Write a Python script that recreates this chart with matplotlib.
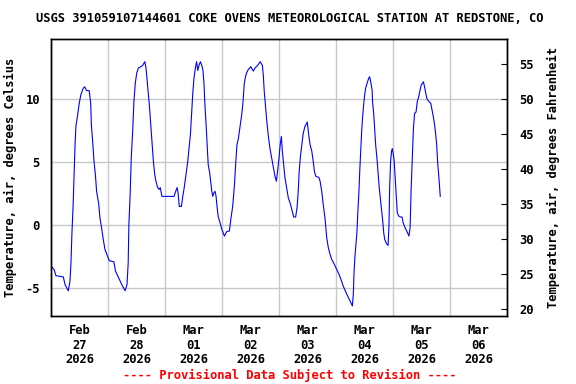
import numpy as np
import pandas as pd
import matplotlib
matplotlib.use("Agg")
import matplotlib.pyplot as plt
import matplotlib.dates as mdates

# hours since 2026-02-27 00:00 and air temperature (deg C)
hours = [0.3, 1.3, 2.1, 5.2, 5.9, 7.3, 8.0, 8.4, 8.8, 9.3, 9.7, 10.1, 10.5, 11.1, 11.8,
         12.6, 13.6, 14.2, 15.0, 16.1, 16.7, 17.0, 17.6, 18.1, 18.7, 19.2, 20.1, 20.6,
         21.3, 22.0, 22.7, 23.5, 24.5, 26.5, 27.1, 28.3, 29.8, 31.2, 32.0, 32.5, 32.8,
         33.3, 33.8, 34.4, 34.9, 35.5, 36.1, 36.8, 37.8, 38.6, 39.5, 40.0, 40.4, 40.8,
         41.4, 42.0, 42.5, 43.1, 43.7, 44.2, 44.9, 45.6, 46.0, 46.7, 51.8, 52.5, 53.1,
         53.5, 54.0, 54.9, 55.4, 56.1, 56.8, 57.6, 58.1, 58.7, 59.2, 59.7, 60.2, 60.8,
         61.3, 61.8, 62.3, 62.9, 63.5, 64.0, 64.4, 64.8, 65.3, 65.7, 66.2, 66.8, 67.2,
         67.7, 68.1, 68.6, 69.1, 69.5, 69.9, 70.4, 71.2, 71.9, 73.0, 74.0, 75.1, 75.8,
         76.5, 77.2, 77.8, 78.3, 78.9, 79.6, 80.3, 80.8, 81.4, 82.0, 82.8, 84.1, 85.2,
         85.9, 87.0, 88.1, 89.0, 89.4, 89.8, 90.4, 90.9, 91.5, 92.2, 92.9, 93.6, 94.3,
         94.9, 95.4, 96.0, 96.5, 97.0, 97.4, 98.0, 98.5, 99.2, 99.9, 100.8, 101.6, 102.2,
         103.0, 103.6, 104.1, 104.5, 105.1, 105.7, 106.2, 106.9, 107.9, 108.5, 109.1,
         109.8, 110.4, 110.9, 111.5, 112.8, 113.3, 114.0, 114.6, 115.4, 116.1, 116.8,
         117.5, 118.2, 119.3, 120.3, 121.3, 122.1, 123.1, 124.5, 125.9, 126.9, 127.3,
         127.6, 128.0, 128.4, 128.8, 129.1, 129.6, 130.0, 130.4, 130.8, 131.2, 131.7,
         132.1, 132.5, 133.1, 133.8, 134.2, 134.6, 135.2, 135.4, 135.9, 136.3, 136.7,
         137.3, 137.8, 138.2, 138.8, 139.2, 139.7, 140.1, 140.5, 141.1, 141.9, 142.3,
         142.6, 143.0, 143.4, 143.7, 144.1, 144.5, 145.0, 145.4, 145.8, 146.4, 147.2,
         147.8, 148.3, 149.1, 149.8, 150.7, 151.2, 151.6, 152.1, 152.6, 153.1, 153.7,
         154.2, 154.8, 155.4, 155.9, 156.8, 157.3, 157.9, 158.4, 159.3, 159.9, 160.4,
         161.0, 161.5, 162.0, 162.4, 162.8, 163.4, 163.9]
temp_c = [-3.3, -3.5, -4.0, -4.1, -4.7, -5.2, -4.4, -3.0, -0.7, 1.5, 3.9, 6.3, 7.9, 8.6, 9.6,
          10.4, 10.9, 11.0, 10.7, 10.7, 9.7, 8.0, 6.5, 5.1, 4.0, 2.7, 1.7, 0.6,
          -0.2, -1.1, -1.9, -2.3, -2.8, -2.9, -3.6, -4.1, -4.7, -5.2, -4.7, -3.0, 0.1,
          2.3, 5.4, 7.5, 9.8, 11.3, 12.1, 12.5, 12.6, 12.7, 13.0, 12.5, 11.7, 10.8,
          9.6, 8.0, 6.7, 5.1, 4.0, 3.5, 3.0, 2.85, 3.0, 2.3, 2.3, 2.7, 3.0,
          2.6, 1.5, 1.5, 2.2, 3.0, 4.0, 5.1, 6.1, 7.2, 8.8, 10.5, 11.7, 12.5,
          13.0, 12.3, 12.7, 13.0, 12.7, 12.3, 11.3, 9.6, 8.0, 6.5, 4.8, 4.2, 3.5,
          2.7, 2.3, 2.6, 2.7, 2.3, 1.5, 0.7, 0.2, -0.3, -0.85, -0.5, -0.45, 0.6,
          1.5, 3.1, 5.0, 6.4, 6.9, 7.85, 8.8, 9.7, 11.3, 11.9, 12.3, 12.6, 12.25,
          12.5, 12.7, 13.0, 12.7, 11.9, 10.6, 9.3, 8.2, 7.1, 6.1, 5.35, 4.6, 3.9,
          3.5, 4.3, 5.35, 6.4, 7.06, 5.9, 4.8, 3.8, 3.0, 2.2, 1.7, 1.1, 0.66,
          0.66, 1.4, 2.7, 4.3, 5.6, 6.5, 7.3, 7.85, 8.2, 7.2, 6.4,
          5.9, 5.1, 4.3, 3.9, 3.8, 3.5, 2.7, 1.7, 0.5, -1.0, -1.8,
          -2.3, -2.7, -3.1, -3.5, -3.9, -4.3, -4.85, -5.45, -6.0, -6.4, -5.45,
          -3.7, -2.4, -1.5, -0.6, 0.7, 2.45, 4.3, 5.9, 7.45, 8.6, 9.7,
          10.4, 10.9, 11.3, 11.7, 11.8, 11.4, 10.75, 9.8, 8.8, 7.6, 6.4,
          5.2, 4.0, 3.0, 1.9, 1.1, 0.3, -0.6, -1.1, -1.4, -1.6, -0.05,
          3.1, 5.1, 5.9, 6.1, 5.7, 5.1, 3.5, 2.2, 1.0, 0.74, 0.66,
          0.66, 0.2, -0.2, -0.45, -0.85, -0.2, 2.7, 5.1, 7.7, 8.9, 9.0,
          9.8, 10.2, 10.75, 11.15, 11.4, 11.0, 10.4, 10.0, 9.8, 9.7, 9.2,
          8.6, 8.0, 7.2, 6.4, 5.0, 3.6, 2.3]

day_labels = ["Feb\n27\n2026", "Feb\n28\n2026", "Mar\n01\n2026", "Mar\n02\n2026",
              "Mar\n03\n2026", "Mar\n04\n2026", "Mar\n05\n2026", "Mar\n06\n2026"]
c_ticks = [-5, 0, 5, 10]
f_ticks = [20, 25, 30, 35, 40, 45, 50, 55]

start = pd.Timestamp("2026-02-27")
times = start + pd.to_timedelta(hours, unit="h")
midnights = pd.date_range(start, periods=9, freq="D")
noons = midnights[:-1] + pd.Timedelta(hours=12)

font = "DejaVu Sans Mono"
fs = 8.7

fig = plt.figure(figsize=(5.76, 3.84), dpi=100)
ax = fig.add_axes([51 / 576, 1 - 316 / 384, 456 / 576, 277 / 384])

ax.plot(times, temp_c, color="#0000ff", lw=0.8)

ylo, yhi = -7.2, 14.8
ax.set_ylim(ylo, yhi)
ax.set_xlim(midnights[0], midnights[-1])

ax.set_xticks(midnights)
ax.set_xticklabels([])
ax.set_xticks(noons, minor=True)
ax.set_xticklabels(day_labels, minor=True, family=font, fontsize=fs, fontweight="bold",
                   linespacing=1.15)
ax.tick_params(axis="x", which="both", length=0, pad=6)
ax.grid(True, axis="x", which="major", color="#c8c8c8", lw=1)

ax.set_yticks(c_ticks)
ax.set_yticklabels([str(v) for v in c_ticks], family=font, fontsize=fs, fontweight="bold")
ax.tick_params(axis="y", length=0, pad=8)
ax.grid(True, axis="y", color="#c8c8c8", lw=1)
ax.set_ylabel("Temperature, air, degrees Celsius", family=font, fontsize=fs,
              fontweight="bold", labelpad=6)

ax2 = ax.twinx()
ax2.set_ylim(ylo * 9 / 5 + 32, yhi * 9 / 5 + 32)
ax2.set_yticks(f_ticks)
ax2.set_yticklabels([str(v) for v in f_ticks], family=font, fontsize=fs, fontweight="bold")
ax2.tick_params(axis="y", direction="in", length=4, pad=9)
ax2.set_ylabel("Temperature, air, degrees Fahrenheit", family=font, fontsize=fs,
               fontweight="bold", labelpad=9)

for a in (ax, ax2):
    for s in a.spines.values():
        s.set_linewidth(1.0)
        s.set_color("black")

fig.text(290 / 576, 1 - 19 / 384,
         "USGS 391059107144601 COKE OVENS METEOROLOGICAL STATION AT REDSTONE, CO",
         ha="center", va="center", family=font, fontsize=fs, fontweight="bold")
fig.text(290 / 576, 1 - 375 / 384, "---- Provisional Data Subject to Revision ----",
         ha="center", va="center", family=font, fontsize=fs, fontweight="bold",
         color="#ff0000")

fig.savefig("out.png", dpi=100)
